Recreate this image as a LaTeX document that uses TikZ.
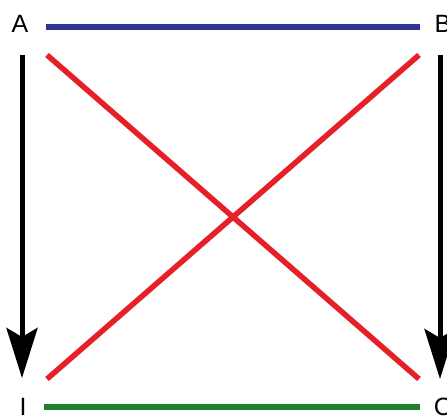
\documentclass[tikz,border=0pt]{standalone}
\usepackage{fontspec}
\setmainfont{Liberation Sans}
\usetikzlibrary{arrows.meta}

\definecolor{edgeblue}{RGB}{48,52,150}
\definecolor{edgered}{RGB}{230,32,40}
\definecolor{edgegreen}{RGB}{34,128,44}

\begin{document}
\begin{tikzpicture}[x=1pt,y=-1pt,line join=round,
  corner/.style={inner sep=0pt,font=\fontsize{25}{30}\selectfont},
  downarrow/.style={line width=5pt,-{Stealth[width=31pt,length=50pt,inset=9pt]}}]
\useasboundingbox (0,0) rectangle (447,417);
\node[corner] (A) at (20,24) {A};
\node[corner] (B) at (443,24) {B};
\node[corner] (I) at (23,407) {I};
\node[corner] (C) at (443,407) {C};
\coordinate (tl) at (47,55);
\coordinate (tr) at (419,55);
\coordinate (bl) at (47,379);
\coordinate (br) at (419,379);
\draw[edgeblue, line width=6.5pt, shorten <=17pt, shorten >=14pt] ([yshift=-3pt]A.east) -- ([yshift=-3pt]B.west);
\draw[edgegreen, line width=6.5pt, shorten <=17pt, shorten >=14pt] (I.east) -- (C.west);
\draw[edgered, line width=5.5pt] (tl) -- (br);
\draw[edgered, line width=5.5pt] (tr) -- (bl);
\draw[downarrow, shorten <=31pt, shorten >=29pt] ([xshift=2pt]A.center) -- ([xshift=-1pt]I.center);
\draw[downarrow, shorten <=31pt, shorten >=28pt] ([xshift=-3pt]B.center) -- ([xshift=-3pt]C.center);
\end{tikzpicture}
\end{document}
